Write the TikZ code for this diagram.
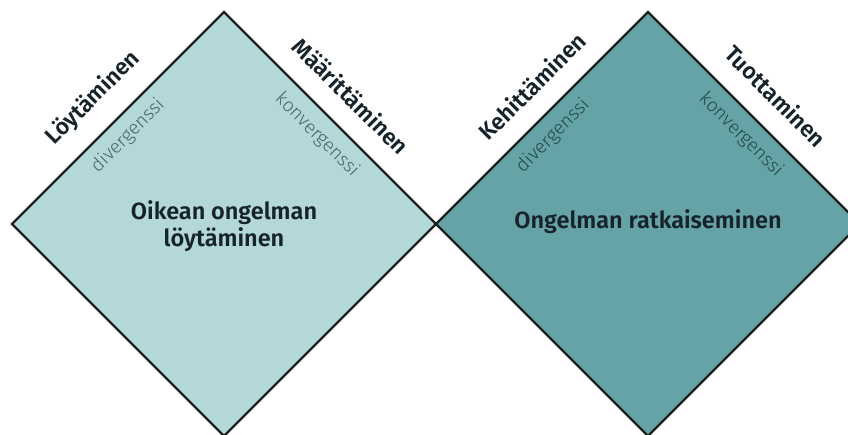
\documentclass[tikz,border=0pt]{standalone}
\usepackage{fontspec}
\setmainfont{Fira Sans}
\newfontfamily\fsb{Fira Sans SemiBold}
\newfontfamily\fsl{Fira Sans Light}
\definecolor{lightteal}{HTML}{B4D7DA}
\definecolor{darkteal}{HTML}{66A3A6}
\definecolor{edgecol}{HTML}{1A1F1F}
\definecolor{titlecol}{HTML}{16232A}
\definecolor{smallL}{HTML}{45666A}
\definecolor{smallR}{HTML}{23484A}
\tikzset{
  phase/.style={line width=2.3pt, draw=edgecol, line join=miter},
  steplabel/.style={font=\fsb\fontsize{22.8}{26}\selectfont, text=titlecol, inner sep=0pt},
  modelabel/.style={font=\fsl\fontsize{19}{22}\selectfont, inner sep=0pt},
  maintext/.style={font=\fsb\fontsize{23.5}{27}\selectfont, text=titlecol, align=center, inner sep=0pt},
}
\begin{document}
\begin{tikzpicture}[x=1pt,y=-1pt]
\useasboundingbox (0,0) rectangle (848,434);
\clip (0,0) rectangle (848,434);
\fill[white] (0,0) rectangle (848,434);
% left diamond
\coordinate (L1) at (12,224);
\coordinate (T1) at (224,12);
\coordinate (M) at (436,224);
\coordinate (B1) at (224,436);
% right diamond
\coordinate (T2) at (648,12);
\coordinate (R2) at (860,224);
\coordinate (B2) at (648,436);
\fill[lightteal] (L1) -- (T1) -- (M) -- (B1) -- cycle;
\fill[darkteal] (M) -- (T2) -- (R2) -- (B2) -- cycle;
\draw[phase] (L1) -- (T1) -- (M) -- (B1) -- cycle;
\draw[phase] (M) -- (T2) -- (R2) -- (B2) -- cycle;
% labels
\node[steplabel, rotate=45] (loyt) at (93,98) {Löytäminen};
\node[modelabel, text=smallL, rotate=45] (div1) at (128,136) {divergenssi};
\node[steplabel, rotate=-45] (maar) at (351,96) {Määrittäminen};
\node[modelabel, text=smallL, rotate=-45] (konv1) at (317,135) {konvergenssi};
\node[steplabel, rotate=45] (kehi) at (532,86) {Kehittäminen};
\node[modelabel, text=smallR, rotate=45] (div2) at (553,136) {divergenssi};
\node[steplabel, rotate=-45] (tuot) at (776,96) {Tuottaminen};
\node[modelabel, text=smallR, rotate=-45] (konv2) at (741,135) {konvergenssi};
\node[maintext] (left) at (224,226) {Oikean ongelman\\löytäminen};
\node[maintext] (right) at (648,222) {Ongelman ratkaiseminen};
\end{tikzpicture}
\end{document}
